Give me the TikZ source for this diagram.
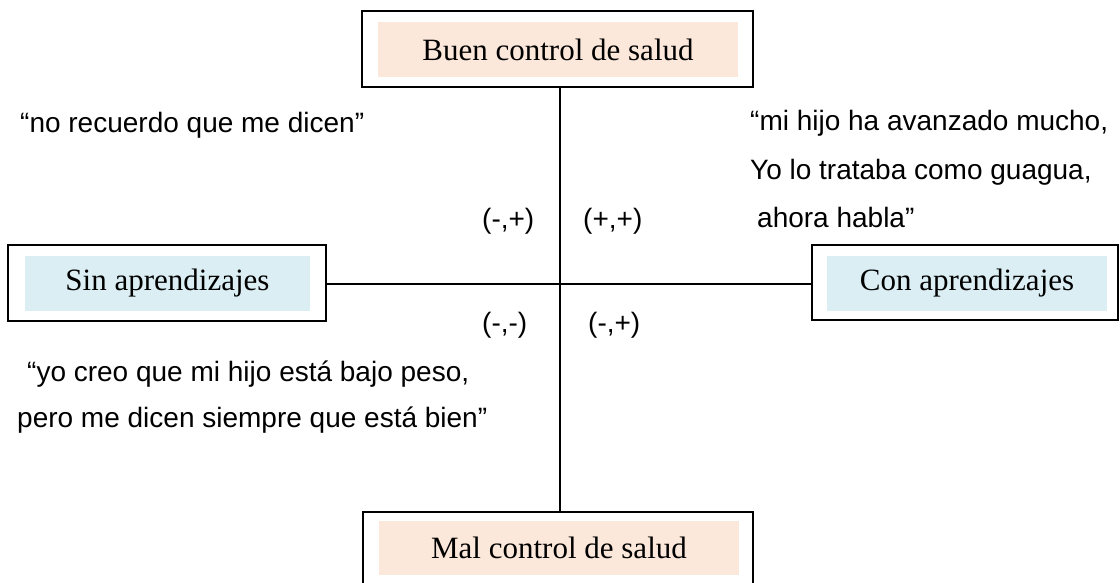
\documentclass[tikz,border=0pt]{standalone}
\usepackage{fontspec}
\setmainfont{Liberation Serif}
\newfontfamily\arialf{Liberation Sans}
\definecolor{peach}{RGB}{252,232,218}
\definecolor{paleblue}{RGB}{218,238,243}
\begin{document}
\begin{tikzpicture}[x=1pt,y=-1pt,
  outerbox/.style={draw=black,line width=1.8pt,fill=white,inner sep=0pt},
  fillbox/.style={inner sep=0pt,font=\fontsize{31}{36}\selectfont},
  quote/.style={inner sep=0pt,anchor=base west,font=\arialf\fontsize{28}{34}\selectfont},
  axis/.style={line width=1.8pt}]
\useasboundingbox (0,0) rectangle (1120,583);
% boxes
\node[outerbox,minimum width=391pt,minimum height=76pt] (top) at (557.5,49) {};
\node[fillbox,fill=peach,minimum width=360pt,minimum height=55pt] (toptxt) at (558,49.5) {Buen control de salud};
\node[outerbox,minimum width=318pt,minimum height=76pt] (left) at (167,283) {};
\node[fillbox,fill=paleblue,minimum width=285pt,minimum height=55pt] (lefttxt) at (167.5,283.5) {Sin aprendizajes};
\node[outerbox,minimum width=306pt,minimum height=75pt] (right) at (965,282.5) {};
\node[fillbox,fill=paleblue,minimum width=280pt,minimum height=55pt] (righttxt) at (967,283.5) {Con aprendizajes};
\node[outerbox,minimum width=390pt,minimum height=76pt] (bot) at (558,550) {};
\node[fillbox,fill=peach,minimum width=360pt,minimum height=54pt] (bottxt) at (559,548) {Mal control de salud};
% axes
\coordinate (o) at (560,284);
\draw[axis] (o |- top.south) -- (o |- bot.north);
\draw[axis] (left.east |- o) -- (right.west |- o);
% quadrant labels
\node[quote] (ql1) at (482,229) {(-,+)};
\node[quote] (ql2) at (583,229) {(+,+)};
\node[quote] (ql3) at (482,332) {(-,-)};
\node[quote] (ql4) at (588,332) {(-,+)};
% quotes
\node[quote] (q1) at (20,133) {“no recuerdo que me dicen”};
\node[quote] (q2a) at (750,131) {“mi hijo ha avanzado mucho,};
\node[quote] (q2b) at (750,179) {Yo lo trataba como guagua,};
\node[quote] (q2c) at (757,227) {ahora habla”};
\node[quote] (q3a) at (27,381) {“yo creo que mi hijo está bajo peso,};
\node[quote] (q3b) at (17,427) {pero me dicen siempre que está bien”};
\end{tikzpicture}
\end{document}
